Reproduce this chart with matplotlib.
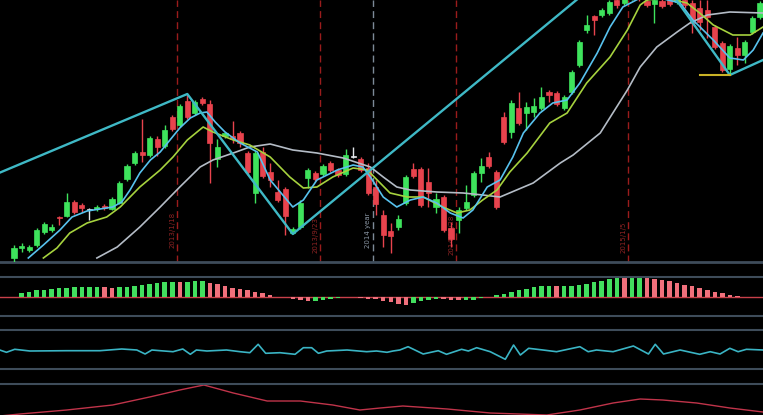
import matplotlib
matplotlib.use('Agg')
import matplotlib.pyplot as plt
import numpy as np

# ---------------- data ----------------
opens  = [2,12,10,15,28,30,43,44,58,55,50,51,54,51,57,81,97,108,105,121,114,143,135,159,147,161,156,101,124,124,
          127,107,67,108,88,68,71,27,33,82,87,86,97,90,86,103,101,92,73,45,29,33,57,91,91,78,53,63,32,40,
          52,65,87,103,88,143,128,152,147,148,152,168,167,152,168,195,230,244,245,247,260,257,263,268,259,256,259,260,258,260,
          257,252,250,233,217,191,212,205,228,243]
closes = [12,14,13,30,36,33,42,58,48,52,51,53,52,61,77,94,107,105,122,113,130,131,154,143,158,157,117,113,127,121,
          117,88,107,84,80,60,44,31,57,90,81,94,90,85,105,104,90,67,56,25,24,41,83,84,55,67,61,30,21,50,
          58,87,94,94,53,118,157,137,153,154,163,165,156,163,188,218,235,240,250,258,255,262,270,262,255,260,254,256,263,255,
          237,238,243,213,190,214,205,218,242,257]
highs  = [15,17,15,32,38,36,44,67,60,57,52,55,56,63,79,96,109,141,124,124,135,145,156,166,160,163,160,121,128,139,
          129,109,109,113,97,80,73,33,60,92,89,96,99,92,111,113,103,97,80,50,37,45,85,97,93,92,67,65,38,53,
          75,89,102,108,90,148,160,168,158,162,173,170,169,165,190,220,245,245,252,260,263,265,274,312,263,265,263,264,266,263,
          260,260,260,235,219,216,223,220,244,259]
lows   = [-2,8,8,13,26,28,35,43,46,48,40,49,50,50,56,79,95,98,103,104,112,129,133,141,145,155,77,93,122,117,
          113,85,57,82,73,58,25,26,31,72,79,84,88,83,84,102,88,65,45,13,7,30,55,82,53,53,47,28,13,27,
          50,63,78,92,51,116,122,135,130,143,150,158,154,150,166,193,227,225,243,245,252,255,260,259,253,237,252,254,256,252,
          227,230,222,211,188,185,195,197,226,241]

# zigzag pivots (candle index, price)
zz_idx = [-2, 23, 37, 83, 95, 99.4]
zz_val = [87, 166, 26, 312, 185, 200]

# moving averages (candle index, value)
ma5_idx = [1.9,3.9,6.1,7.7,9.7,11.4,13.1,14.3,15.4,16.7,18.1,19.4,20.7,22.0,23.4,24.7,25.6,26.7,28.0,30.0,32.3,34.0,
           37.0,38.4,40.2,42.9,45.0,46.3,47.3,49.0,50.8,52.6,54.3,56.1,57.9,59.6,60.9,62.8,64.5,66.2,67.6,69.8,71.5,
           73.4,75.1,77.4,79.1,80.8,83.1,85.7,88.4,90.1,92.8,95.0,96.8,98.1,99.4]
ma5_val = [2,15,30,43,49,51,53,58,70,87,100,108,120,132,142,147,148,138,128,117,108,80,
           53,60,80,90,95,93,83,63,53,60,63,57,47,42,50,73,80,103,127,147,157,
           160,177,207,233,253,262,262,257,240,220,202,200,210,227]
ma10_idx = [3.9,5.7,7.4,9.7,12.3,14.1,16.7,19.4,21.1,23.0,25.1,26.4,29.1,31.3,34.0,36.6,38.4,40.2,42.3,45.0,46.9,
            48.2,49.9,52.2,54.3,56.9,58.8,60.5,62.2,64.1,65.8,68.1,71.1,73.4,76.0,79.1,81.4,83.1,84.0,86.4,89.3,
            91.0,92.8,95.4,97.7,99.4]
ma10_val = [2,12,27,37,43,53,73,90,103,120,133,128,120,115,103,83,72,73,83,92,90,
            80,67,63,63,53,47,50,60,70,88,107,137,147,177,203,230,255,260,262,257,
            247,235,225,225,233]
ma30_idx = [11.0,13.7,16.7,19.4,22.0,24.7,26.4,29.1,31.3,34.0,37.0,40.2,43.7,47.3,49.0,50.8,52.6,56.1,59.6,62.2,
            64.5,68.9,72.5,74.2,77.8,81.4,83.1,85.3,88.0,89.7,92.0,95.0,99.4]
ma30_val = [2,13,33,53,73,93,100,107,113,116,110,107,102,93,83,73,70,68,67,65,
            63,77,97,105,127,170,193,213,228,237,245,248,247]

# MACD histogram (one bar per candle) and its colour code
macd = [0.5,4,5,7,7,8,8.7,9.3,9.7,10,10,10,9.7,9.3,9.7,10,11,12,13,14,14.7,14.7,15.3,15.3,15.7,15.7,14,12.7,10.7,9.3,
        7.7,7,5.3,3.7,2,0.5,0.2,-1.7,-3.3,-4.3,-4.3,-2.7,-2,-1,-0.2,-0.2,-1,-2,-2,-3.5,-5,-6.7,-7.7,-6,-4.3,-2.7,-2,-2,-3.3,-3.3,
        -3.3,-2.7,-1,0.3,1.7,3.3,5,6.7,8,9.7,10.7,10.7,10.7,10.7,11.3,12.3,13,14.7,16.3,18,19,19.7,20,20,19,18.3,17.3,15.7,14,12.3,
        10.7,9,7.3,5,3.7,2.3,1,0.3,0.2,0.1]
macd_col = list('gggggggggggg' 'rr' 'gggggggg' 'r' 'ggg' 'rrrrrrrrrrrrrr' 'gggggg' 'rrrrrrr' 'gggg' 'rrr'
                'gggggggggggg' 'r' 'gggggggg' 'r' 'gg' 'rrrrrrrrrrrrrrrr')

# oscillator line
osc_idx = [-1.9,-1.0,0.1,2.1,7.0,11.4,14.3,16.3,17.4,18.3,19.4,21.1,22.4,23.4,24.2,25.6,28.2,30.0,31.3,32.4,33.4,35.3,
           37.3,38.4,39.5,40.4,41.5,44.2,46.8,48.1,49.5,50.3,51.2,52.3,54.3,56.3,57.4,59.4,60.3,61.4,63.2,65.2,66.3,
           67.2,68.3,70.2,72.0,75.1,76.2,77.3,79.5,82.2,84.2,85.1,86.2,88.4,91.0,92.4,93.7,95.0,96.1,97.2,99.4]
osc_val = [19,16.7,19.7,18,18.3,18.3,20,19,15,19,18.3,17.3,20,14.7,19,18,19,17.3,16.3,24.7,15.7,16.3,
           14.7,21.3,21.3,15.7,18,19,17.3,18,16.7,18,19,22.3,15,18.3,14.7,19.7,18,21.3,17.3,9.7,24,
           14,20.7,19,17.3,22.3,17.3,19,17.3,23,15,24.7,15,19,14.7,17.3,15,20.7,17.3,19.7,19]

# bottom line
bot_idx = [-1.9,0.8,7.0,13.1,18.0,22.0,25.2,29.1,33.6,38.0,42.3,45.9,48.6,51.6,57.5,63.2,70.7,75.1,79.5,83.1,86.1,
           90.6,95.0,99.4]
bot_val = [-1,1,5,10,18,25,30,22,14,14,10,5,7,9,6,2,0,5,12,16,15,12,7,3]

# event markers
event_idx = [21.6, 40.6, 58.7, 81.5]
event_lab = ['2013/1/18', '2013/9/23', '2014/10/28', '2015/1/5']
event_lab_y = [30, 25, 25, 23]
year_idx = 47.6
year_lab = '2014 year'

# hold level
hold_idx = [91, 95]
hold_val = [185, 185]

# ---------------- drawing ----------------
W, H = 763, 415
fig = plt.figure(figsize=(W / 100, H / 100), dpi=100, facecolor='black')
XL = (-1.858, 99.40)
SEP = '#3e4c5a'

def panel(top, bottom):
    ax = fig.add_axes([0, 1 - bottom / H, 1, (bottom - top) / H])
    ax.set_facecolor('black')
    ax.set_xlim(*XL)
    ax.set_xticks([]); ax.set_yticks([])
    for s in ax.spines.values():
        s.set_visible(False)
    return ax

GREEN = '#3ee35c'
RED = '#e8434d'
DOJI = '#e4e8ec'

# main panel
ax = panel(0, 262)
ax.set_ylim(-2, 260)
ax.spines['bottom'].set_visible(True)
ax.spines['bottom'].set_color(SEP)
ax.spines['bottom'].set_linewidth(2)

for xi in event_idx:
    ax.axvline(xi, color='#9a1c1c', lw=1.0, ls=(0, (5, 3)), zorder=1)
ax.axvline(year_idx, color='#7d8a98', lw=1.0, ls=(0, (5, 3)), zorder=1)
for xi, lab, yy in zip(event_idx, event_lab, event_lab_y):
    ax.text(xi - 0.6, yy, lab, rotation=90, color='#8e2323', fontsize=5,
            ha='center', va='center', zorder=2)
ax.text(year_idx - 0.6, 30, year_lab, rotation=90, color='#8a96a4', fontsize=5,
        ha='center', va='center', zorder=2)

idx = np.arange(len(opens))
o = np.array(opens, float); c = np.array(closes, float)
hi = np.array(highs, float); lo = np.array(lows, float)
up = c >= o
cols = np.where(up, GREEN, RED)
cols = np.where(up & (np.abs(c - o) <= 1), DOJI, cols)
ax.vlines(idx, lo, hi, colors=cols, lw=1.0, zorder=3)
body_lo = np.minimum(o, c)
body_h = np.maximum(np.abs(c - o), 1.2)
ax.bar(idx, body_h, bottom=body_lo, width=0.68, color=cols, edgecolor=cols, lw=0.5, zorder=4)

ax.plot(ma30_idx, ma30_val, color='#b4bcc6', lw=1.2, zorder=5)
ax.plot(ma10_idx, ma10_val, color='#a6d23e', lw=1.2, zorder=5)
ax.plot(ma5_idx, ma5_val, color='#58c2ee', lw=1.2, zorder=6)
ax.plot(zz_idx, zz_val, color='#3fb9c6', lw=1.7, zorder=7)
ax.plot(hold_idx, hold_val, color='#c9b226', lw=1.5, zorder=7)

# MACD panel
ax2 = panel(277, 316)
ax2.set_ylim(-19, 20)
for s in ('top', 'bottom'):
    ax2.spines[s].set_visible(True)
    ax2.spines[s].set_color(SEP)
    ax2.spines[s].set_linewidth(1.5)
mcols = ['#42df5e' if k == 'g' else '#f0707c' for k in macd_col]
ax2.axhline(0, color='#c8404a', lw=1.0, zorder=1)
ax2.bar(np.arange(len(macd)), macd, width=0.6, color=mcols, zorder=2)

# oscillator panel
ax3 = panel(330, 369)
ax3.set_ylim(0, 39)
for s in ('top', 'bottom'):
    ax3.spines[s].set_visible(True)
    ax3.spines[s].set_color(SEP)
    ax3.spines[s].set_linewidth(1.5)
ax3.plot(osc_idx, osc_val, color='#3ab4c4', lw=1.2)

# bottom panel
ax4 = panel(384, 415)
ax4.set_ylim(0, 31)
ax4.spines['top'].set_visible(True)
ax4.spines['top'].set_color(SEP)
ax4.spines['top'].set_linewidth(1.5)
ax4.plot(bot_idx, bot_val, color='#c0344a', lw=1.0)

fig.savefig('out.png', dpi=100, facecolor='black')
